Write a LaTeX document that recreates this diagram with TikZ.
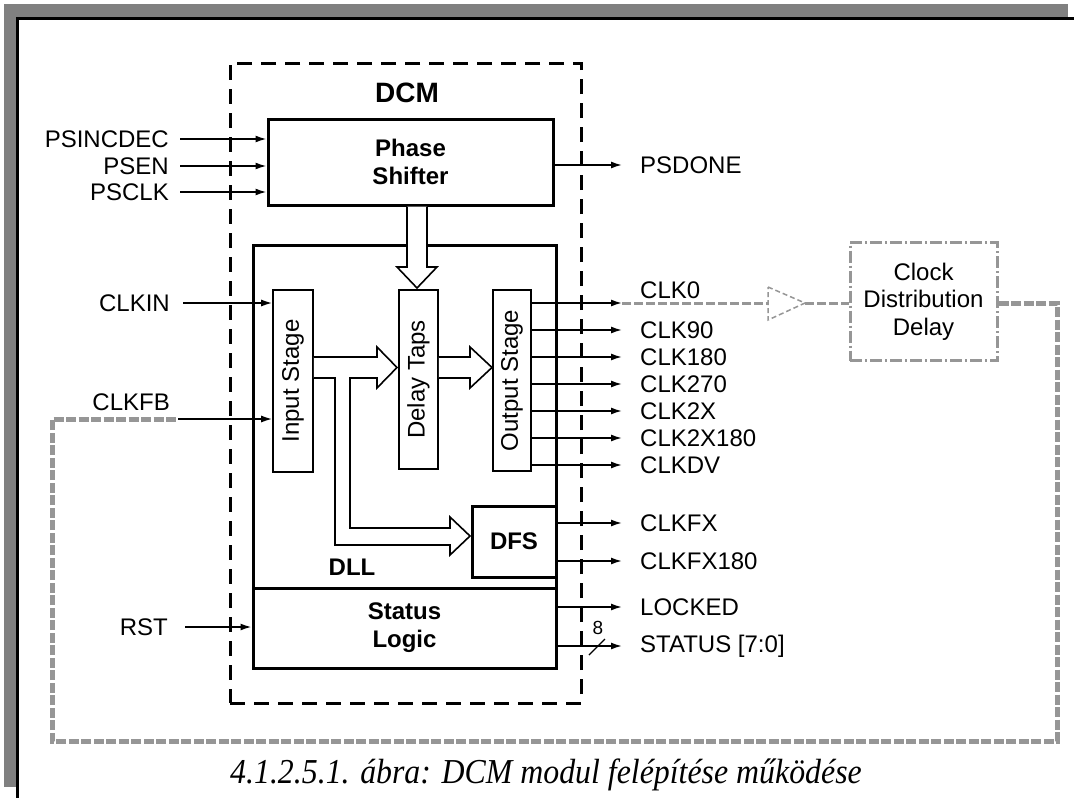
\documentclass[tikz,border=0pt]{standalone}
\usepackage{fontspec}
\setmainfont{Liberation Serif}
\setsansfont{Liberation Sans}
\usetikzlibrary{arrows.meta}
\definecolor{framegray}{RGB}{128,128,128}
\definecolor{fbgray}{RGB}{150,150,150}
\begin{document}
\begin{tikzpicture}[x=1pt,y=-1pt,
  lbl/.style={font=\sffamily\fontsize{24}{27}\selectfont, inner sep=0pt},
  blbl/.style={font=\sffamily\bfseries\fontsize{24}{28}\selectfont, align=center, inner sep=0pt},
  bigbox/.style={draw, line width=3pt, inner sep=0pt},
  stagebox/.style={draw, line width=1.6pt, inner sep=0pt},
  sig/.style={line width=1.6pt, -{Latex[length=11pt,width=7pt]}},
  hollow/.style={draw, line width=1.6pt, fill=white, line join=miter},
  fb/.style={draw=fbgray, line width=5pt, dash pattern=on 10pt off 2.5pt},
  fbthin/.style={draw=fbgray, line width=3pt, dash pattern=on 9pt off 3pt},
]
\useasboundingbox (0,0) rectangle (1074,798);
\fill[white] (0,0) rectangle (1074,798);
% page frame
\fill[framegray] (4,4) rectangle (1068,17);
\fill[framegray] (4,4) rectangle (16,787);
\draw[line width=2.5pt] (16,18.5) -- (1074,18.5);
\draw[line width=2.5pt] (17.5,17) -- (17.5,798);

% DCM dashed box
\node[draw, line width=3pt, dash pattern=on 15pt off 9pt, minimum width=351, minimum height=640, inner sep=0pt] (dcm) at (405.5,383) {};
\node[font=\sffamily\bfseries\fontsize{28}{30}\selectfont, inner sep=0pt] (dcmlbl) at (407,93) {DCM};

% main blocks
\node[bigbox, blbl, minimum width=285, minimum height=86] (ps) at (410.5,162) {Phase\\Shifter};
\node[bigbox, minimum width=303, minimum height=343] (dll) at (404.5,416.5) {};
\node[bigbox, blbl, minimum width=303, minimum height=80] (st) at (404.5,628) {Status\\Logic};
\node[bigbox, blbl, minimum width=84, minimum height=71] (dfs) at (514,541.5) {DFS};
\node[blbl] (dlllbl) at (352,567) {DLL};

% stages
\node[stagebox, minimum width=40, minimum height=182] (ins) at (293,381) {};
\node[lbl, rotate=90] (inslbl) at (ins.center) {Input Stage};
\node[stagebox, minimum width=39, minimum height=179] (dt) at (418.5,379.5) {};
\node[lbl, rotate=90] (dtlbl) at (dt.center) {Delay Taps};
\node[stagebox, minimum width=38, minimum height=181] (os) at (512,380.5) {};
\node[lbl, rotate=90] (oslbl) at (os.center) {Output Stage};

% hollow arrows
\draw[hollow] (407,206.5) -- (407,267) -- (397,267) -- (417,288) -- (437,267) -- (427,267) -- (427,206.5);
\draw[hollow] (313.8,378) -- (335,378) -- (335,545) -- (450,545) -- (450,555) -- (470,536) -- (450,517) -- (450,528) -- (350,528) -- (350,378) -- (377,378) -- (377,388) -- (397,367.5) -- (377,347) -- (377,357) -- (313.8,357);
\draw[hollow] (438.8,378) -- (470,378) -- (470,388) -- (492,367.5) -- (470,347) -- (470,357) -- (438.8,357);

% inputs
\node[lbl, anchor=east] (psincdec) at (169,139) {PSINCDEC};
\node[lbl, anchor=east] (psen) at (169,166) {PSEN};
\node[lbl, anchor=east] (psclk) at (169,192) {PSCLK};
\foreach \n in {psincdec,psen,psclk}
  \draw[sig] ([xshift=11pt]\n.east) -- (\n.east -| ps.west);
\node[lbl, anchor=east] (clkin) at (170,303) {CLKIN};
\draw[sig] ([xshift=13pt]clkin.east) -- (clkin.east -| ins.west);
\node[lbl, anchor=east] (clkfb) at (170,402) {CLKFB};
\node[lbl, anchor=east] (rst) at (168,627) {RST};
\draw[sig] ([xshift=17pt]rst.east) -- (rst.east -| st.west);

% PSDONE
\node[lbl, anchor=west] (psdone) at (640,165) {PSDONE};
\draw[sig] (ps.east |- psdone.west) -- ([xshift=-18pt]psdone.west);

% clock outputs
\node[lbl, anchor=west] (clk0) at (640,290) {CLK0};
\coordinate (c0) at (622,303);
\draw[sig] (os.east |- c0) -- (c0);
\node[lbl, anchor=west] (clk90) at (640,330) {CLK90};
\node[lbl, anchor=west] (clk180) at (640,357) {CLK180};
\node[lbl, anchor=west] (clk270) at (640,384) {CLK270};
\node[lbl, anchor=west] (clk2x) at (640,411) {CLK2X};
\node[lbl, anchor=west] (clk2x180) at (640,438) {CLK2X180};
\node[lbl, anchor=west] (clkdv) at (640,465) {CLKDV};
\foreach \n in {clk90,clk180,clk270,clk2x,clk2x180,clkdv}
  \draw[sig] (os.east |- \n.west) -- ([xshift=-18pt]\n.west);
\node[lbl, anchor=west] (clkfx) at (640,523) {CLKFX};
\node[lbl, anchor=west] (clkfx180) at (640,561) {CLKFX180};
\foreach \n in {clkfx,clkfx180}
  \draw[sig] (dfs.east |- \n.west) -- ([xshift=-18pt]\n.west);
\node[lbl, anchor=west] (locked) at (640,607) {LOCKED};
\node[lbl, anchor=west] (status) at (640,646) {STATUS [7:0]};
\foreach \n in {locked,status}
  \draw[sig] (st.east |- \n.west) -- ([xshift=-18pt]\n.west);
\draw[line width=1.2pt] (589,655) -- (605,639);
\node[font=\sffamily\fontsize{19}{20}\selectfont, inner sep=0pt] (eight) at (598,628) {8};

% clock distribution (gray)
\node[draw=fbgray, line width=3pt, dash pattern=on 12pt off 3pt on 2pt off 3pt,
      minimum width=147, minimum height=118, inner sep=0pt, align=center,
      font=\sffamily\fontsize{24}{27.5}\selectfont] (cdd) at (923.5,301.5) {Clock\\Distribution\\Delay};
\coordinate (bufin) at (768,303);
\coordinate (buftip) at (805,303);
\draw[fbthin] (c0) -- (bufin);
\draw[draw=fbgray, line width=1.5pt, dash pattern=on 5pt off 3pt, line join=miter] (768,287) -- (buftip) -- (768,320) -- cycle;
\draw[fbthin] (buftip) -- (cdd.west |- buftip);
\coordinate (fbend) at (178,419);
\coordinate (fbr) at (1057,303);
\coordinate (fbrb) at (1057,741);
\coordinate (fblb) at (52,741);
\coordinate (fblt) at (52,419);
\draw[fb] (cdd.east |- fbr) -- (fbr) -- (fbrb) -- (fblb) -- (fblt) -- (fbend);
\draw[sig] (fbend) -- (fbend -| ins.west);

% caption
\node[inner sep=0pt, anchor=base] (cap) at (546,783) {\scalebox{0.91}[1]{\itshape\fontsize{35}{38}\selectfont 4.1.2.5.1. ábra: DCM modul felépítése működése}};
\end{tikzpicture}
\end{document}
